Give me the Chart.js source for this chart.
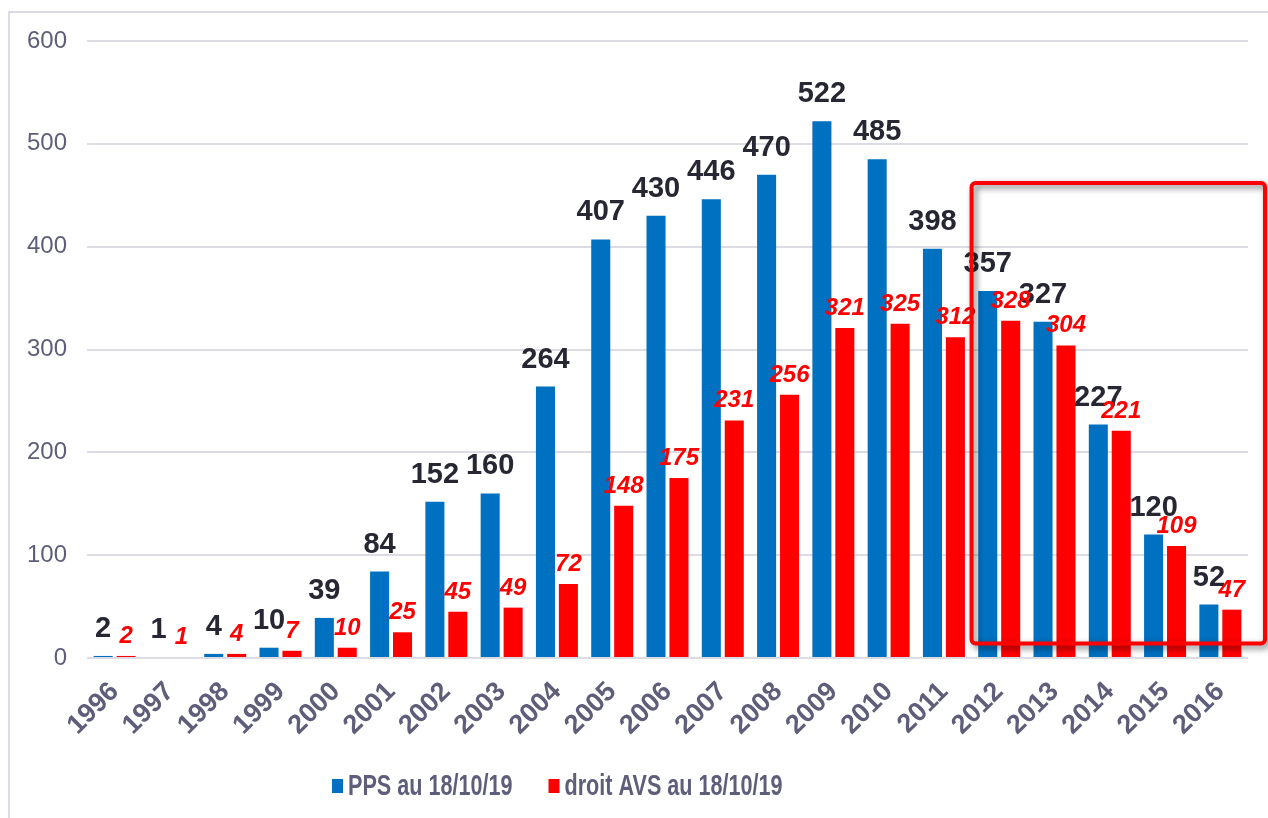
<!DOCTYPE html>
<html>
<head>
<meta charset="utf-8">
<script src="https://cdn.jsdelivr.net/npm/chart.js@4.4.0/dist/chart.umd.min.js"></script>
<style>
  html, body { margin: 0; padding: 0; background: #fff; overflow: hidden; }
  #frame { position: absolute; left: 8px; top: 11px; width: 1300px; height: 900px; border: 2px solid #dcdce4; }
  #wrap { position: absolute; left: 0; top: 0; width: 1268px; height: 818px; }
</style>
</head>
<body>
<div id="frame"></div>
<div id="wrap"><canvas id="myChart"></canvas></div>
<script>
// donnees
var annees = ["1996","1997","1998","1999","2000","2001","2002","2003","2004","2005","2006",
              "2007","2008","2009","2010","2011","2012","2013","2014","2015","2016"];
var pps = [2,1,4,10,39,84,152,160,264,407,430,446,470,522,485,398,357,327,227,120,52];
var avs = [2,1,4,7,10,25,45,49,72,148,175,231,256,321,325,312,328,304,221,109,47];
var yTicks = [0,100,200,300,400,500,600];

// cadre rouge autour de 2012-2016
var cadreDepuis = "2012";
var cadreHaut = 462;
var cadreBas = 14;

var police = "'Liberation Sans', Arial, sans-serif";
var gris = "#5e5e7a";

var etiquettes = {
  id: 'etiquettes',
  afterDatasetsDraw: function(chart) {
    var ctx = chart.ctx;
    ctx.save();
    ctx.textAlign = 'center';
    ctx.textBaseline = 'alphabetic';
    chart.data.datasets.forEach(function(ds, i) {
      var meta = chart.getDatasetMeta(i);
      meta.data.forEach(function(bar, j) {
        if (i === 0) {
          ctx.font = "bold 29px " + police;
          ctx.fillStyle = "#272733";
          ctx.fillText(ds.data[j], bar.x, bar.y - 19);
        } else {
          ctx.font = "italic bold 24px " + police;
          ctx.fillStyle = "#ff0000";
          ctx.fillText(ds.data[j], bar.x, bar.y - 13);
        }
      });
    });

    // cadre
    var x = chart.scales.x, y = chart.scales.y;
    var k = annees.indexOf(cadreDepuis);
    var gauche = (x.getPixelForValue(k - 1) + x.getPixelForValue(k)) / 2;
    var droite = chart.chartArea.right + 17;
    var haut = y.getPixelForValue(cadreHaut);
    var bas = y.getPixelForValue(cadreBas);
    ctx.shadowColor = "rgba(0,0,0,0.55)";
    ctx.shadowBlur = 6;
    ctx.shadowOffsetX = 3;
    ctx.shadowOffsetY = 3;
    ctx.strokeStyle = "#ff0000";
    ctx.lineWidth = 4;
    ctx.beginPath();
    ctx.roundRect(gauche, haut, droite - gauche, bas - haut, 4);
    ctx.stroke();
    ctx.restore();
  }
};

// legende dessinee a la main (police etroite)
var legende = {
  id: 'legende',
  afterDraw: function(chart) {
    var ctx = chart.ctx;
    var xx = 332, yy = 786;
    ctx.save();
    ctx.font = "bold 30px " + police;
    ctx.textBaseline = 'middle';
    chart.data.datasets.forEach(function(ds) {
      ctx.fillStyle = ds.backgroundColor;
      ctx.fillRect(xx, yy - 7, 11, 14);
      xx += 16;
      var w = ctx.measureText(ds.label).width * 0.72;
      ctx.save();
      ctx.translate(xx, yy);
      ctx.scale(0.72, 1);
      ctx.fillStyle = gris;
      ctx.fillText(ds.label, 0, 1);
      ctx.restore();
      xx += w + 36;
    });
    ctx.restore();
  }
};

var ctx = document.getElementById("myChart");
var myChart = new Chart(ctx, {
  type: 'bar',
  data: {
    labels: annees,
    datasets: [{
      label: 'PPS au 18/10/19',
      data: pps,
      backgroundColor: '#0070c0',
      barPercentage: 0.83,
      categoryPercentage: 0.83
    }, {
      label: 'droit AVS au 18/10/19',
      data: avs,
      backgroundColor: '#ff0000',
      barPercentage: 0.83,
      categoryPercentage: 0.83
    }]
  },
  options: {
    responsive: true,
    maintainAspectRatio: false,
    animation: false,
    layout: { padding: { left: 0, top: 41, right: 20, bottom: 60 } },
    plugins: {
      legend: { display: false },
      tooltip: { enabled: false }
    },
    scales: {
      y: {
        min: 0,
        max: 600,
        afterFit: function(s) { s.width = 87; },
        afterBuildTicks: function(s) { s.ticks = yTicks.map(function(v) { return { value: v }; }); },
        border: { display: false },
        grid: { color: '#dcdce4', lineWidth: 2, drawTicks: false },
        ticks: { padding: 20, color: gris, font: { family: police, size: 24 } }
      },
      x: {
        afterFit: function(s) { s.height = 100; },
        border: { display: false },
        grid: { display: false },
        ticks: {
          minRotation: 45,
          maxRotation: 45,
          padding: 10,
          color: gris,
          font: { family: police, size: 27, weight: 'bold' }
        }
      }
    }
  },
  plugins: [etiquettes, legende]
});
</script>
</body>
</html>
